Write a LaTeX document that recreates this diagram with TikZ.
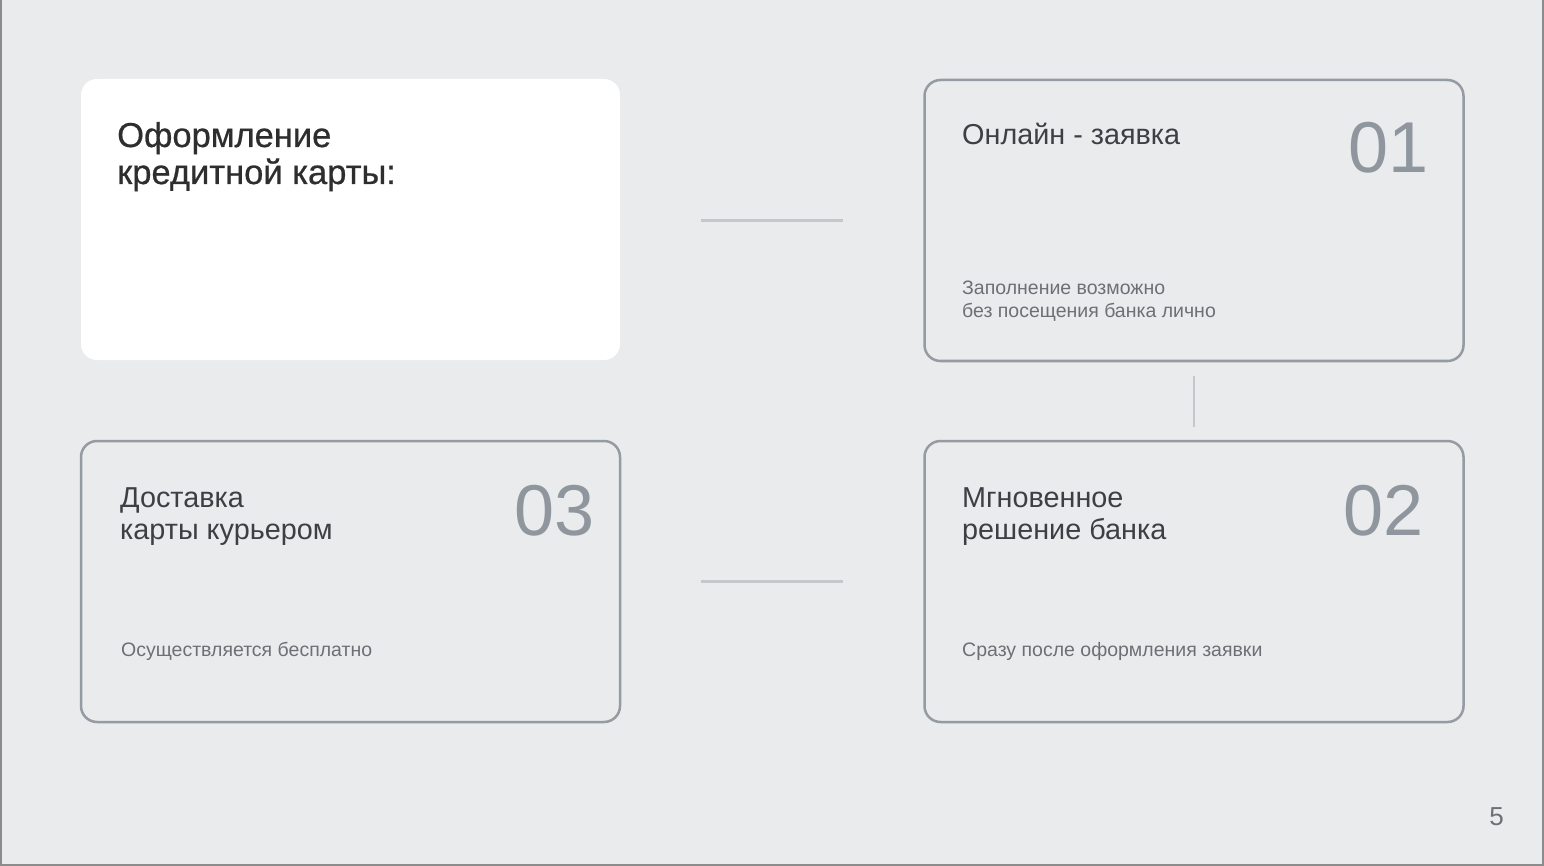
\documentclass[tikz,border=0pt]{standalone}
\usepackage{fontspec}
\setmainfont{Liberation Sans}
\newfontfamily\titlefont[FakeBold=0.6]{Liberation Sans}
\usetikzlibrary{positioning}

\definecolor{slidebg}{HTML}{EAEBED}
\definecolor{boxline}{HTML}{959BA3}
\definecolor{linkgray}{HTML}{C5C7CA}
\definecolor{headgray}{HTML}{3C3F44}
\definecolor{titlegray}{HTML}{2E2E2E}
\definecolor{numgray}{HTML}{8F969E}
\definecolor{notegray}{HTML}{6C7075}
\definecolor{framegray}{HTML}{8C8C8C}

\tikzset{
  card/.style={draw=boxline, line width=2.5pt, rounded corners=16pt,
    minimum width=539pt, minimum height=281pt, inner sep=0pt},
  link/.style={draw=linkgray, line width=2.5pt},
  head/.style={anchor=base west, inner sep=0pt, align=left, text=headgray,
    font=\fontsize{28.8}{32}\selectfont},
  num/.style={anchor=base east, inner sep=0pt, text=numgray,
    font=\fontsize{72}{80}\selectfont},
  note/.style={anchor=base west, inner sep=0pt, align=left, text=notegray,
    font=\fontsize{19.5}{23}\selectfont}
}

\begin{document}
\begin{tikzpicture}[x=1pt,y=-1pt]

% Slide
\fill [slidebg] (0,0) rectangle (1544,866);
\useasboundingbox (0,0) rectangle (1544,866);
\draw [framegray, line width=2pt] (1,0) -- (1,865) -- (1543,865) -- (1543,0);

% Cards
\node [card, draw=none, fill=white] (title) at (350.5,219.5) {};
\node [card] (step1) at (1194,220.5) {};
\node [card] (step2) at (1194,581.5) {};
\node [card] (step3) at (350.5,581.5) {};

% Links
\draw [link, yshift=-1.5pt, shorten <=80pt, shorten >=80pt] (step1.west -| title.east) -- (step1.west);
\draw [link, shorten <=14pt, shorten >=13pt] (step1.south) -- (step2.north);
\draw [link, yshift=-1pt, shorten <=80pt, shorten >=80pt] (step2.west) -- (step3.east);

% Texts (base = last line)
\node [anchor=base west, inner sep=0pt, align=left, text=titlegray,
  font=\titlefont\fontsize{34.5}{37}\selectfont] (titletext) at (117,184)
  {Оформление\\кредитной карты:};

\node [head] (head1) at (962,145) {Онлайн - заявка};
\node [num] (num1) at (1429,173) {01};
\node [note] (note1) at (962,318) {Заполнение возможно\\без посещения банка лично};

\node [head] (head2) at (962,539) {Мгновенное\\решение банка};
\node [num] (num2) at (1424,535) {02};
\node [note] (note2) at (962,656) {Сразу после оформления заявки};

\node [head] (head3) at (120,539) {Доставка\\карты курьером};
\node [num] (num3) at (595,535) {03};
\node [note] (note3) at (121,656) {Осуществляется бесплатно};

\node [anchor=base east, inner sep=0pt, text=notegray,
  font=\fontsize{26}{30}\selectfont] (page) at (1504,825) {5};

\end{tikzpicture}
\end{document}
